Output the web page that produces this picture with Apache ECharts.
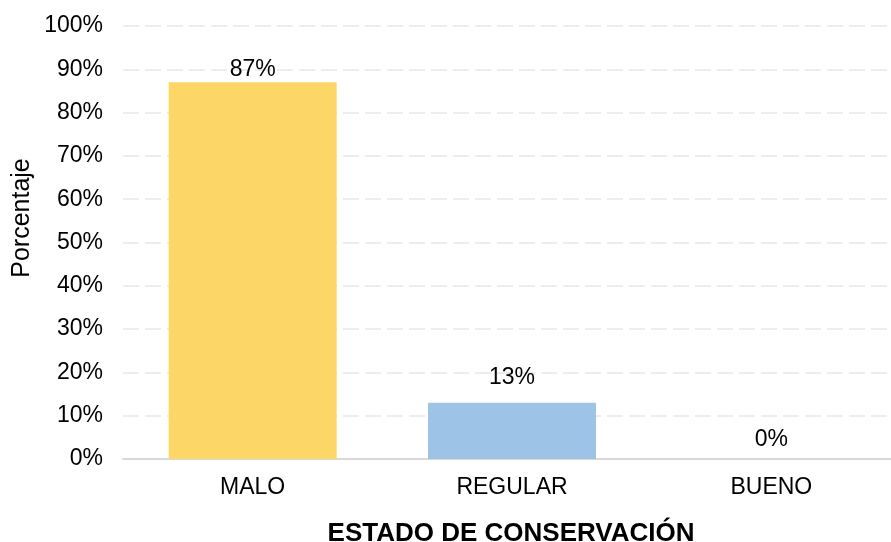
<!DOCTYPE html>
<html>
<head>
<meta charset="utf-8">
<script src="https://cdn.jsdelivr.net/npm/echarts@6/dist/echarts.min.js"></script>
<style>
html,body{margin:0;padding:0;background:#fff;overflow:hidden;width:891px;height:542px;}
#chart{width:910px;height:542px;}
</style>
</head>
<body>
<div id="chart"></div>
<script>
const categories = ['MALO', 'REGULAR', 'BUENO'];
const values = [87, 13, 0];
const yTicks = [0, 10, 20, 30, 40, 50, 60, 70, 80, 90, 100];
const xTitle = 'ESTADO DE CONSERVACIÓN';
const yTitle = 'Porcentaje';

const barColors = ['#FCD667', '#9DC3E6', '#A9A9A9'];
const labelGaps = [1, 14, 7.5];
const FONT = '"Liberation Sans", Arial, sans-serif';

const chart = echarts.init(document.getElementById('chart'), null, {renderer: 'canvas'});
chart.setOption({
  animation: false,
  backgroundColor: '#ffffff',
  grid: {left: 123, top: 26, width: 778, height: 433, containLabel: false},
  xAxis: {
    type: 'category',
    data: categories,
    axisLine: {show: true, lineStyle: {color: '#d9d9d9', width: 2}},
    axisTick: {show: false},
    axisLabel: {color: '#000', fontFamily: FONT, fontSize: 23, margin: 17}
  },
  yAxis: {
    type: 'value',
    min: yTicks[0],
    max: yTicks[yTicks.length - 1],
    interval: yTicks[1] - yTicks[0],
    axisLine: {show: false},
    axisTick: {show: false},
    axisLabel: {color: '#000', fontFamily: FONT, fontSize: 23, margin: 20, formatter: '{value}%'},
    splitLine: {show: true, lineStyle: {color: '#ededed', width: 2, type: [16, 6]}}
  },
  series: [{
    type: 'bar',
    data: values.map((v, i) => ({
      value: v,
      itemStyle: {color: barColors[i]},
      label: {distance: labelGaps[i]}
    })),
    barWidth: 168,
    label: {
      show: true,
      position: 'top',
      color: '#000',
      fontFamily: FONT,
      fontSize: 23,
      formatter: p => p.value + '%'
    }
  }],
  graphic: [
    {
      type: 'text',
      x: 511, y: 534,
      style: {text: xTitle, font: 'bold 26px ' + FONT, fill: '#000', textAlign: 'center', textVerticalAlign: 'middle'}
    },
    {
      type: 'text',
      x: 22, y: 218,
      rotation: Math.PI / 2,
      style: {text: yTitle, font: '25px ' + FONT, fill: '#000', textAlign: 'center', textVerticalAlign: 'middle'}
    }
  ]
});
</script>
</body>
</html>
